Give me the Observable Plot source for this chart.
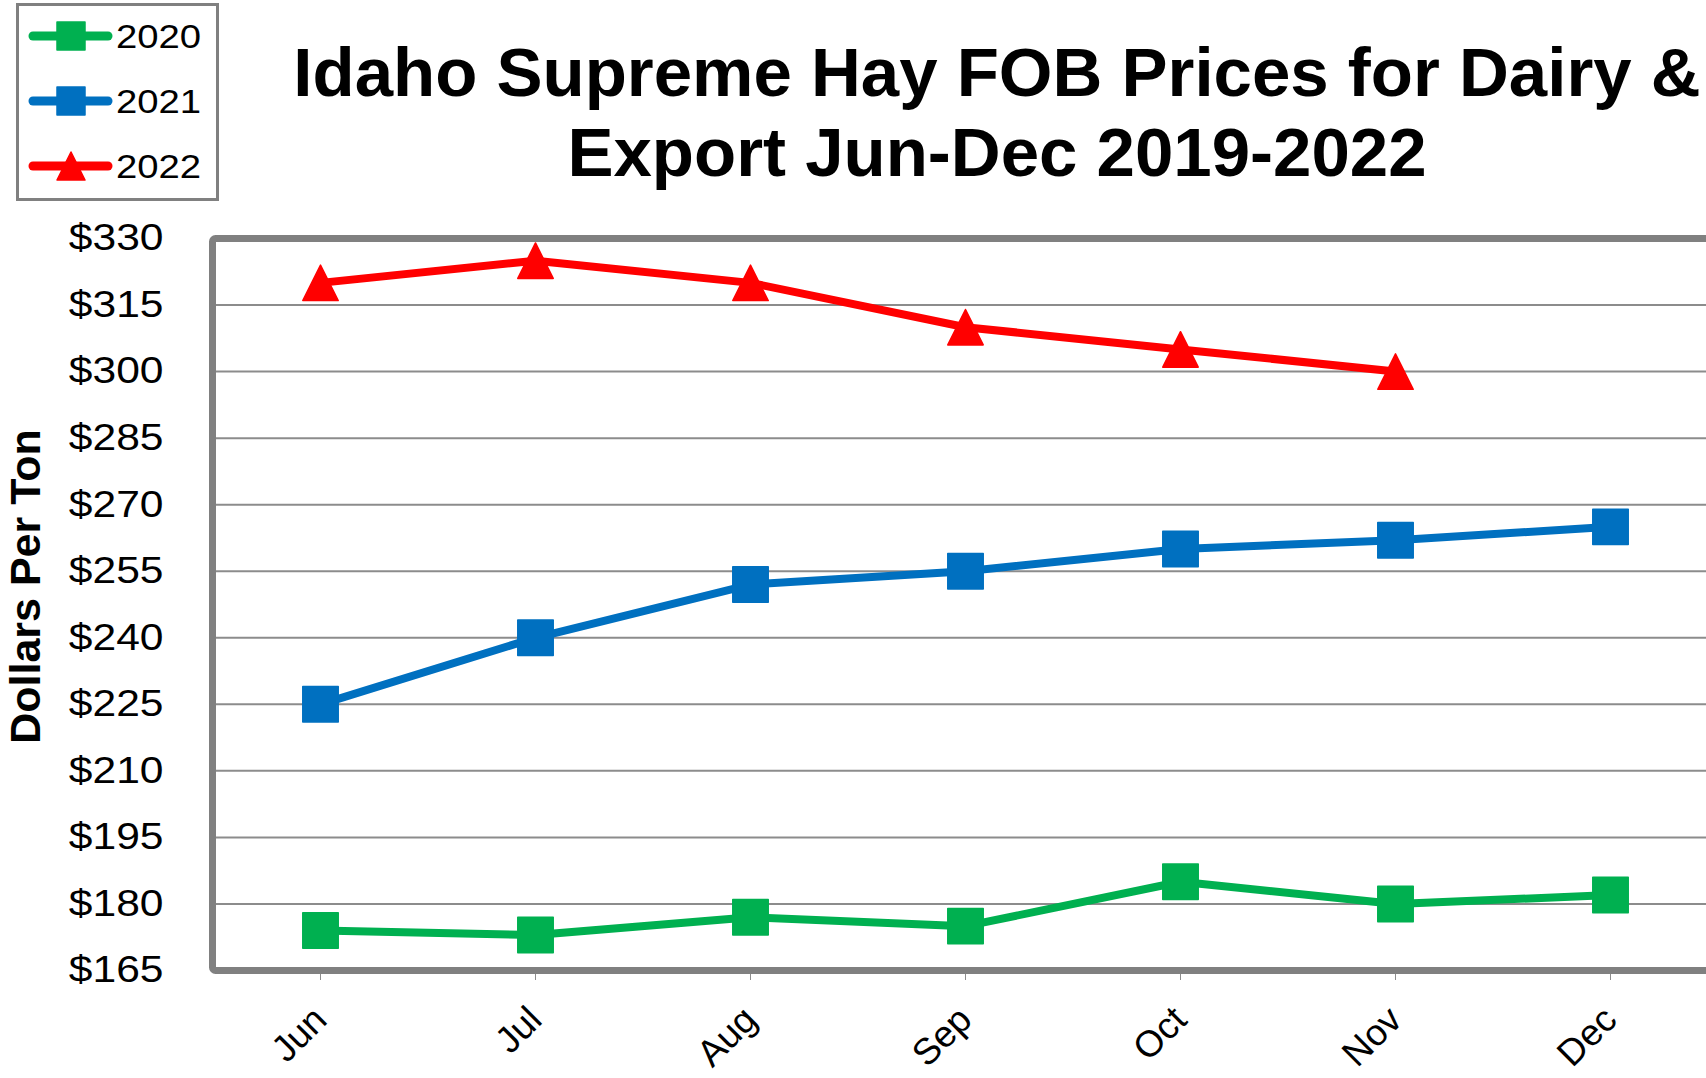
<!DOCTYPE html>
<html><head><meta charset="utf-8">
<script src="https://cdn.jsdelivr.net/npm/d3@7"></script>
<script src="https://cdn.jsdelivr.net/npm/@observablehq/plot@0.6"></script>
<style>
html,body{margin:0;padding:0;background:#fff;overflow:hidden;width:1706px;height:1078px;}
#header{position:relative;height:200px;width:1706px;}
#title{position:absolute;left:997px;top:33px;transform:translateX(-50%);white-space:nowrap;text-align:center;font:bold 69px/80px "Liberation Sans",Arial,sans-serif;color:#000;}
#legend{position:absolute;left:16px;top:3px;width:203px;height:198px;box-sizing:border-box;border:3px solid #808080;background:#fff;}
#chart svg{display:block;}
</style></head><body>
<div id="header">
  <div id="legend"></div>
  <div id="title">Idaho Supreme Hay FOB Prices for Dairy &amp;<br>Export Jun-Dec 2019-2022</div>
</div>
<div id="chart"></div>
<script>
// ---- data ----
const months = ["Jun", "Jul", "Aug", "Sep", "Oct", "Nov", "Dec"];
const years = ["2020", "2021", "2022"];
const prices2020 = [174, 173, 177, 175, 185, 180, 182];
const prices2021 = [225, 240, 252, 255, 260, 262, 265];
const prices2022 = [320, 325, 320, 310, 305, 300, null];
const yTicks = [165, 180, 195, 210, 225, 240, 255, 270, 285, 300, 315, 330];
const seriesColors = ["#00B050", "#0070C0", "#FF0000"];
const yLabel = "Dollars Per Ton";

// ---- build table ----
const seriesValues = [prices2020, prices2021, prices2022];
const table = [];
years.forEach((yr, s) => {
  months.forEach((m, i) => {
    const v = seriesValues[s][i];
    if (v != null) table.push({month: m, year: yr, price: v});
  });
});

// custom triangle symbol (width == height, centred on bounding box)
const triangle = {
  draw(context, size) {
    const s = Math.sqrt(size);
    context.moveTo(0, -s / 2);
    context.lineTo(s / 2, s / 2);
    context.lineTo(-s / 2, s / 2);
    context.closePath();
  }
};
const seriesSymbols = [d3.symbolSquare, d3.symbolSquare, triangle];

const FONT = '"Liberation Sans", Arial, sans-serif';

const chart = Plot.plot({
  width: 1720,
  height: 878,
  marginTop: 38,
  marginBottom: 108,
  marginLeft: 212,
  marginRight: 2.5,
  style: {fontFamily: FONT, background: "white", maxWidth: "none", color: "black"},
  x: {type: "point", domain: months, padding: 0.5, label: null},
  y: {domain: [165, 330], label: null},
  color: {domain: years, range: seriesColors},
  symbol: {domain: years, range: seriesSymbols},
  marks: [
    Plot.ruleY(yTicks.slice(1, -1), {stroke: "#8c8c8c", strokeWidth: 2}),
    Plot.axisY({ticks: yTicks, tickFormat: d => "$" + d, tickSize: 0, tickPadding: 49, fontSize: 37, label: null}),
    Plot.axisX({tickRotate: -45, tickSize: 10, tickPadding: 33, fontSize: 37, stroke: "#8c8c8c", fill: "black", label: null}),
    Plot.frame({stroke: "#808080", strokeWidth: 7, rx: 3}),
    Plot.text([yLabel], {frameAnchor: "left", textAnchor: "middle", lineAnchor: "middle", rotate: -90, dx: -186, dy: -18, fontSize: 43, fontWeight: "bold", fill: "black"}),
    Plot.line(table, {x: "month", y: "price", z: "year", stroke: "year", strokeWidth: 8, strokeLinejoin: "round"}),
    Plot.dot(table, {x: "month", y: "price", fill: "year", stroke: "year", strokeWidth: 1.5, strokeLinejoin: "round", symbol: "year", r: 20})
  ]
});
document.getElementById("chart").appendChild(chart);

// horizontally widen the y tick labels as in the reference
d3.select(chart).selectAll('g[aria-label="y-axis tick label"] text').each(function () {
  const t = this.getAttribute("transform") || "";
  this.setAttribute("transform", t + " scale(1.15,1)");
});

// ---- legend ----
const leg = d3.select("#legend").append("svg")
  .attr("width", 197).attr("height", 192).style("display", "block");
years.forEach((yr, i) => {
  const cy = 30 + i * 65;
  const g = leg.append("g");
  g.append("line").attr("x1", 14).attr("x2", 89).attr("y1", cy).attr("y2", cy)
    .attr("stroke", seriesColors[i]).attr("stroke-width", 9).attr("stroke-linecap", "round");
  g.append("path").attr("transform", `translate(52,${cy})`)
    .attr("d", d3.symbol(seriesSymbols[i], 28 * 28)())
    .attr("fill", seriesColors[i]).attr("stroke", seriesColors[i]).attr("stroke-width", 1.5).attr("stroke-linejoin", "round");
  g.append("text").attr("transform", `translate(97,${cy}) scale(1.16,1)`)
    .attr("dy", "0.35em").attr("font-family", FONT).attr("font-size", 33).attr("fill", "black").text(yr);
});
</script>
</body></html>
